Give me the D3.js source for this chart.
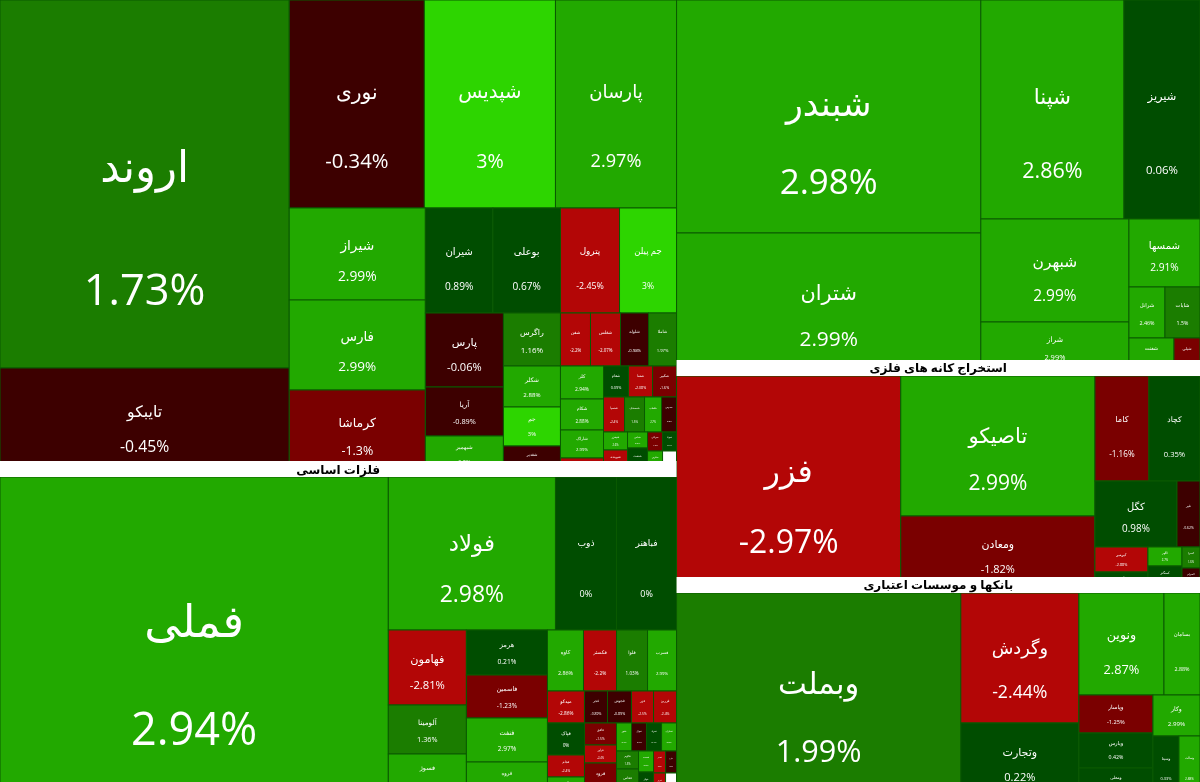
<!DOCTYPE html>
<html lang="fa">
<head>
<meta charset="utf-8">
<script src="https://cdn.jsdelivr.net/npm/d3@7/dist/d3.min.js"></script>
<style>
html,body{margin:0;padding:0;background:#fff;overflow:hidden}
svg{display:block;filter:blur(0.3px)}
text{font-family:"Open Sans","Noto Sans","DejaVu Sans",sans-serif}
</style>
</head>
<body>
<svg id="chart" width="1200" height="782"></svg>
<script>
// Sector titles (two sit above the top of the frame and are not visible)
const sectorNames = ["", "فلزات اساسی", "", "استخراج کانه های فلزی", "بانکها و موسسات اعتباری"];
const sectorUnits = [1.00846, 1.0125, 1.01075, 1.01878, 1.01961];

// Petrochemical / chemical sector
const chemSymbols = ["اروند","تایبکو","نوری","شپدیس","پارسان","شیراز","فارس","کرماشا","شیران","بوعلی","پترول","جم پیلن","پارس","آریا","شبهمیر","راگرس","شکلر","جم","شغدیر","شفن","شغلس","شلوله","شاملا","کلر","شکام","شاراک","شگویا","شفام","شفنا","شکبیر","شسپا","شصدف","شلعاب","شدوص","شیخزر","شوینده","شپاس","شنفت","شرنگی","شتوکا","شکربن","شبریز",""];
const chemChanges = [1.73,-0.45,-0.34,3,2.97,2.99,2.99,-1.3,0.89,0.67,-2.45,3,-0.06,-0.89,2.9,1.16,2.88,3,-0.4,-2.2,-2.07,-0.98,1.97,2.94,2.88,2.99,-2.5,0.09,-2.08,-1.6,-2.4,1.5,2.7,-0.8,2.6,-2.3,2.9,0.5,-1.5,0.4,2.7,null];
const chemCaps = [106352,30345,28080,27248,25168,12512,12240,11288,7088,7088,6195,5985,5772,3822,2886,3021,2337,2223,1539,1590,1590,1484,1484,1419,1333,1204,645,775,744,744,735,700,595,525,432,552,320,500,285,266,330,308];
const chemNesting = ["d",["s",0,1],["s",["d",2,3,4],["d",["s",5,6,7],["s",["d",8,9,10,11],["d",["s",12,13,14],["s",15,16,17,18],["s",["d",19,20,21,22],["d",["s",23,24,25,26],["s",["d",27,28,29],["d",30,31,32,33],["d",["s",34,35],["s",36,37],["s",["d",38,39],["d",40,41]]]]]]]]]]];

// Basic metals sector
const metalSymbols = ["فملی","فولاد","ذوب","فباهنر","فهامون","آلومینا","فسوژ","هرمز","فاسمین","فنفت","فروه","کاوه","فکستر","فلوا","فسرب","میدکو","فجر","فجوش","فزر","فزرین","فپاک","فجام","فگستر","فافق","فرآور","فرود","فخوز","فنوال","فمراد","فسازان","فالوم","فخاس","فسدید","فولاژ","فغدیر","فارو","فیروز","فوکا",""];
const metalChanges = [2.94,2.98,0,0,-2.81,1.36,2.9,0.21,-1.23,2.97,2.9,2.86,-2.2,1.03,2.99,-2.86,-0.89,-0.89,-2.5,-2.4,0,-2.4,2.8,-1.5,-2.4,-1.2,2.9,-0.7,0.4,2.8,1.5,1.4,2.8,0.3,-2.3,-0.6,-2.5,null];
const metalCaps = [124160,25551,9333,9180,5850,3822,3354,3645,3483,3564,2835,2196,2013,1891,1769,1184,736,768,704,736,1184,814,740,704,576,1088,420,420,420,420,396,616,315,375,264,242,288,264];
const metalNesting = ["d",0,["s",["d",1,2,3],["d",["s",4,5,6],["s",7,8,9,10],["s",["d",11,12,13,14],["d",15,16,17,18,19],["d",["s",20,21,22],["s",23,24,25],["s",["d",26,27,28,29],["d",["s",30,31],["s",32,33],["s",["d",34,35],["d",36,37]]]]]]]]];

// Sector above the mining titles
const upperSymbols = ["شبندر","شتران","شپنا","شیریز","شبهرن","شراز","شمسها","شرانل","شایات","شفنت","شیلی"];
const upperChanges = [2.98,2.99,2.86,0.06,2.99,2.99,2.91,2.46,1.5,2.9,-1.88];
const upperCaps = [70832,42256,31317,16644,15244,7400,4828,1836,1785,1530,884];
const upperNesting = ["d",["s",0,1],["s",["d",2,3],["d",["s",4,5],["s",6,["d",7,8],["d",9,10]]]]];

// Metal ore mining sector
const mineSymbols = ["فزر","تاصیکو","ومعادن","کاما","کچاد","کگل","غیر","کپرمیر","کروی","کگهر","کمنگنز","کسرا","کسرام"];
const mineChanges = [-2.97,2.99,-1.82,-1.16,0.35,0.98,-0.62,-2.88,0.4,2.7,0.5,1.6,-0.6];
const mineCaps = [47712,27160,14162,5670,5355,5412,1518,1325,901,646,782,378,378];
const mineNesting = ["d",0,["s",1,2],["s",["d",3,4],["d",5,6],["d",["s",7,8],["s",9,10],["s",11,12]]]];

// Banks and credit institutions sector
const bankSymbols = ["وبملت","وگردش","وتجارت","ونوین","بسامان","وپاسار","ویارس","ومعلی","وکار","وسینا","وسالت"];
const bankChanges = [1.99,-2.44,0.22,2.87,2.88,-1.25,0.42,0.3,2.99,0.33,2.88];
const bankCaps = [57936,15340,8732,8670,3672,2812,2590,2146,1927,1586,1281];
const bankNesting = ["d",0,["s",1,2],["s",["d",3,4],["d",["s",5,6,7],["s",8,["d",9,10]]]]];

const W = 1200, LAYOUT_H = 797, HEADER_H = 16;

const color = d3.scaleThreshold()
  .domain([-2,-1,0,1,2,3])
  .range(["#b30606","#7a0000","#3d0000","#004d00","#1b7d00","#22a900","#2dd500"]);

// Turn a nesting spec plus the parallel arrays into a hierarchy node
function build(spec, sym, chg, cap, unit) {
  if (typeof spec === "number")
    return {name: sym[spec], change: chg[spec], cap: cap[spec] * unit};
  return {dir: spec[0], children: spec.slice(1).map(s => build(s, sym, chg, cap, unit))};
}
function sector(i, nesting, sym, chg, cap) {
  const n = build(nesting, sym, chg, cap, sectorUnits[i]);
  n.title = sectorNames[i]; n.isSector = true;
  return n;
}

const rootData = {dir: "d", children: [
  {dir: "s", children: [
    sector(0, chemNesting, chemSymbols, chemChanges, chemCaps),
    sector(1, metalNesting, metalSymbols, metalChanges, metalCaps)]},
  {dir: "s", children: [
    sector(2, upperNesting, upperSymbols, upperChanges, upperCaps),
    sector(3, mineNesting, mineSymbols, mineChanges, mineCaps),
    sector(4, bankNesting, bankSymbols, bankChanges, bankCaps)]}
]};

const root = d3.hierarchy(rootData).sum(d => d.cap || 0);

d3.treemap()
  .size([W, LAYOUT_H])
  .paddingInner(n => n.depth === 1 ? 4 : 0)
  .tile((node, x0, y0, x1, y1) =>
    (node.data.dir === "s" ? d3.treemapSlice : d3.treemapDice)(node, x0, y0, x1, y1))(root);

const svg = d3.select("#chart");

const fontScale = d3.scaleLinear().domain([0, 300]).range([0, 45]).clamp(true);

const cells = svg.append("g").selectAll("g")
  .data(root.leaves())
  .join("g");

cells.append("rect")
  .attr("x", d => d.x0).attr("y", d => d.y0)
  .attr("width", d => d.x1 - d.x0).attr("height", d => d.y1 - d.y0)
  .attr("fill", d => d.data.change === null ? "#fff" : color(d.data.change))
  .attr("stroke", "#0a5a00").attr("stroke-width", 1);

const labelled = cells.filter(d => d.data.change !== null);
const fs = d => fontScale(Math.min(d.x1 - d.x0, d.y1 - d.y0));
const nameY = d => { const h = d.y1 - d.y0; return d.y0 + Math.max(0.465 * h - 6, 0.3 * h); };
const pctY = d => { const h = d.y1 - d.y0; return d.y0 + Math.max(0.8 * h - 6, 0.7 * h); };

labelled.append("text")
  .attr("x", d => (d.x0 + d.x1) / 2)
  .attr("y", nameY)
  .attr("text-anchor", "middle").attr("dominant-baseline", "central")
  .attr("fill", "#fff").attr("font-size", fs)
  .text(d => d.data.name);

labelled.append("text")
  .attr("x", d => (d.x0 + d.x1) / 2)
  .attr("y", pctY)
  .attr("text-anchor", "middle").attr("dominant-baseline", "central")
  .attr("fill", "#fff").attr("font-size", fs)
  .text(d => d.data.change + "%");

// Sector title bars are laid over the bottom of the sector above
const heads = svg.append("g").selectAll("g")
  .data(root.descendants().filter(d => d.data.isSector && d.data.title))
  .join("g");

heads.append("rect")
  .attr("x", d => d.x0).attr("y", d => d.y0 - HEADER_H)
  .attr("width", d => d.x1 - d.x0).attr("height", HEADER_H)
  .attr("fill", "#fff");

heads.append("text")
  .attr("x", d => (d.x0 + d.x1) / 2)
  .attr("y", d => d.y0 - HEADER_H / 2)
  .attr("text-anchor", "middle").attr("dominant-baseline", "central")
  .attr("font-size", 12).attr("font-weight", "bold").attr("fill", "#000")
  .text(d => d.data.title);
</script>
</body>
</html>
